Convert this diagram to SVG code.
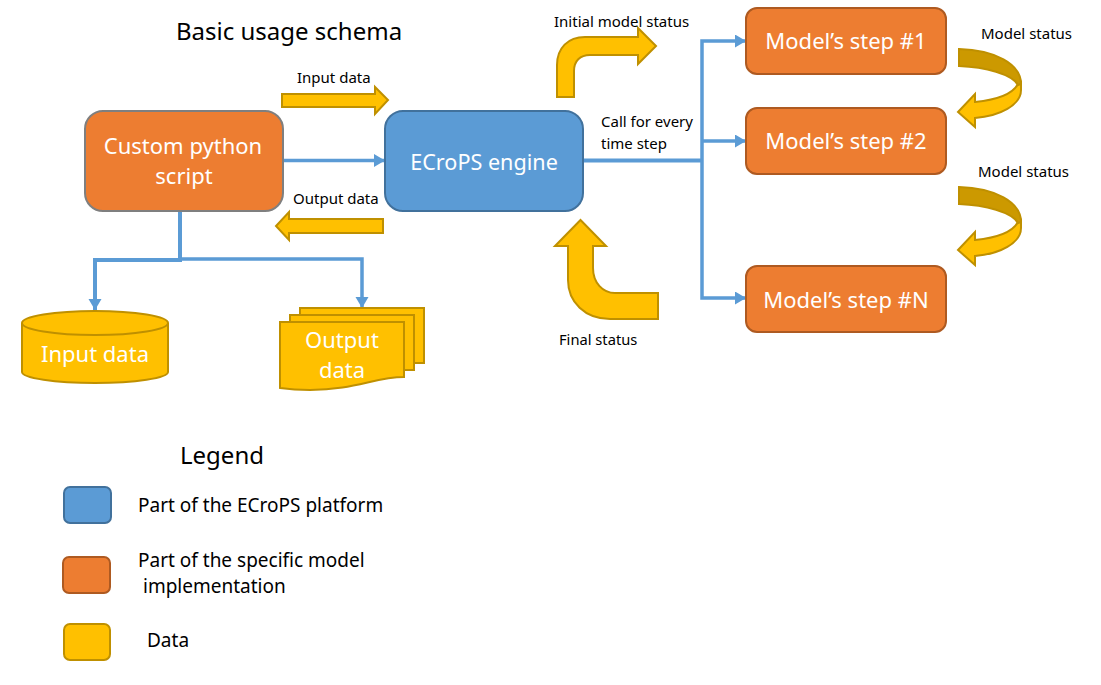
<svg xmlns="http://www.w3.org/2000/svg" width="1101" height="685" viewBox="0 0 1101 685">
<style>
text{font-family:"Noto Sans","Open Sans","Liberation Sans",sans-serif;fill:#000}
.t{font-size:24px}
.s{font-size:15px}
.l{font-size:19px}
.w{font-size:22px;fill:#fff;text-anchor:middle}
.y{fill:#ffc000;stroke:#bf9000;stroke-width:2}
.d{fill:#cc9900;stroke:#bf9000;stroke-width:2}
.o{fill:#ed7d31;stroke:#ae5a21;stroke-width:2}
.b{fill:#5b9bd5;stroke:#41719c;stroke-width:2}
.c{fill:none;stroke:#5b9bd5;stroke-width:4}
.n{fill:none;stroke:#5b9bd5;stroke-width:3.500}
</style>
<defs>
<marker id="a" markerUnits="userSpaceOnUse" markerWidth="12" markerHeight="14" refX="11" refY="6.500" orient="auto"><path d="M0,0L11,6.500L0,13Z" fill="#5b9bd5"/></marker>
<g id="curve">
<path class="y" d="M1021,82L1021,90C1021,105 1000,116 975,118L975,127L958,112L975,94L975,102C995,100 1012,95 1018,84Z"/>
<path class="d" d="M959,49C995,50 1021,64 1021,84L1018,85C1012,74 985,67 959,66Z"/>
</g>
</defs>
<text class="t" x="176" y="40">Basic usage schema</text>
<g id="connectors">
<path class="n" d="M283,160.500H385" marker-end="url(#a)"/>
<path class="c" d="M583,160.500H702"/>
<path class="n" d="M702,160V41H746" marker-end="url(#a)"/>
<path class="n" d="M702,141H746" marker-end="url(#a)"/>
<path class="n" d="M702,160V298H746" marker-end="url(#a)"/>
<path class="c" d="M180,211V260H95V310" marker-end="url(#a)"/>
<path class="n" d="M180,259H362V308" marker-end="url(#a)"/>
</g>
<g id="custom-script"><rect x="85" y="111" width="198" height="100" rx="18" fill="#ed7d31" stroke="#7f7f7f" stroke-width="2"/><text class="w" x="183" y="154">Custom python</text><text class="w" x="184" y="184">script</text></g>
<g id="engine"><rect class="b" x="385" y="111" width="198" height="100" rx="18"/><text class="w" x="484" y="170" style="font-size:21.600px">ECroPS engine</text></g>
<g id="step1"><rect class="o" x="746" y="8" width="200" height="66" rx="11"/><text class="w" x="846" y="49">Model’s step #1</text></g>
<g id="step2"><rect class="o" x="746" y="108" width="200" height="66" rx="11"/><text class="w" x="846" y="149">Model’s step #2</text></g>
<g id="stepN"><rect class="o" x="746" y="266" width="200" height="66" rx="11"/><text class="w" x="846" y="308">Model’s step #N</text></g>
<g id="input-db"><path class="y" d="M22,323V372C22,378 55,383 95,383S168,378 168,372V323"/><ellipse class="y" cx="95" cy="323" rx="73" ry="12"/><text class="w" x="95" y="362">Input data</text></g>
<g id="output-docs">
<rect class="y" x="300" y="308" width="124" height="55"/><rect class="y" x="290" y="315" width="124" height="55"/>
<path class="y" d="M280,322H404V377C375,377 355,390 310,390C295,390 287,389 280,388Z"/>
<text class="w" x="342" y="348">Output</text><text class="w" x="342" y="378">data</text></g>
<g id="input-arrow"><path class="y" d="M282,94H375V87L388,100L375,114V107H282Z"/><text class="s" x="297" y="83">Input data</text></g>
<g id="output-arrow"><path class="y" d="M383,219H289V212L276,226L289,240V233H383Z"/><text class="s" x="293" y="204">Output data</text></g>
<g id="initial-arrow"><path class="y" d="M557,97V65C557,48 568,37 585,37H638V28L656,46L638,64V55H590C580,55 574,61 574,71V97Z"/><text class="s" x="554" y="27">Initial model status</text></g>
<g id="final-arrow"><path class="y" d="M568,246H555L580.500,220L606,246H593V268C593,283 603,293 615,293H658V319H610C585,319 568,302 568,280Z"/><text class="s" x="559" y="345" style="font-size:14.700px">Final status</text></g>
<text class="s" x="601" y="127">Call for every</text><text class="s" x="601" y="149">time step</text>
<g id="status1"><use href="#curve"/><text class="s" x="981" y="39">Model status</text></g>
<g id="status2"><use href="#curve" y="138"/><text class="s" x="978" y="177">Model status</text></g>
<text class="t" x="180" y="464">Legend</text>
<g id="legend">
<rect class="b" x="64" y="487" width="47" height="36" rx="6"/><text class="l" x="138" y="512">Part of the ECroPS platform</text>
<rect class="o" x="63" y="557" width="47" height="36" rx="6"/><text class="l" x="138" y="567">Part of the specific model</text><text class="l" x="143" y="593">implementation</text>
<rect class="y" x="64" y="624" width="46" height="36" rx="6"/><text class="l" x="147" y="647">Data</text>
</g>
</svg>
